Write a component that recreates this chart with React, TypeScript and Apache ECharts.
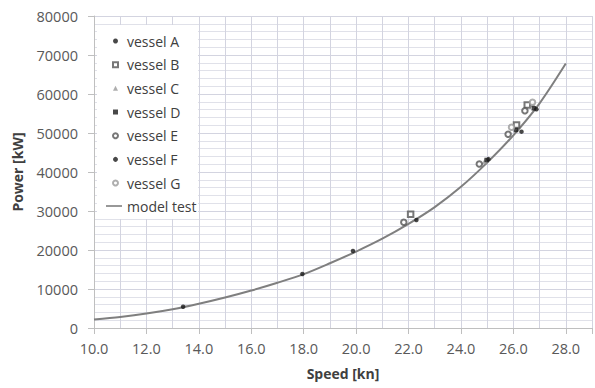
import React, { useEffect, useRef } from "react";
import * as echarts from "echarts";

const speedTicks = [10, 12, 14, 16, 18, 20, 22, 24, 26, 28];
const powerTicks = [0, 10000, 20000, 30000, 40000, 50000, 60000, 70000, 80000];

const modelSpeed = [10, 11, 12, 13, 14, 15, 16, 17, 18, 19, 20, 21, 22, 23, 24, 25, 26, 27, 28];
const modelPower = [2200, 2850, 3700, 4800, 6200, 7800, 9600, 11600, 13800, 16600, 19600, 22900, 26700, 31000, 36200, 42400, 49400, 57600, 67800];

const vesselA = [[13.4, 5460], [17.95, 13850], [19.88, 19740], [22.3, 27700]];
const vesselB = [[22.08, 29150], [26.12, 52050], [26.53, 57180]];
const vesselC = [[24.9, 42700], [26.75, 57300]];
const vesselD = [[24.98, 43080], [26.1, 50770], [26.78, 56330]];
const vesselE = [[21.82, 27100], [24.7, 42050], [25.8, 49660], [26.44, 55720]];
const vesselF = [[25.05, 43300], [26.31, 50340], [26.88, 56080]];
const vesselG = [[25.93, 51460], [26.73, 57870]];

const FONT = "'Open Sans', sans-serif";

export default function App() {
  const ref = useRef<HTMLDivElement>(null);
  useEffect(() => {
    if (!ref.current) return;
    const chart = echarts.init(ref.current, undefined, { renderer: "svg" });
    const scatter = (name: string, data: number[][], symbol: string, color: string, size: number) => ({
      name,
      type: "scatter",
      data,
      symbol,
      symbolSize: size,
      itemStyle: symbol.startsWith("empty")
        ? { color: color, borderColor: color, borderWidth: 1.1 }
        : { color },
      z: 3,
    });
    chart.setOption({
      animation: false,
      backgroundColor: "#ffffff",
      textStyle: { fontFamily: FONT },
      grid: { left: 94, right: 3, top: 16, bottom: 60, containLabel: false },
      graphic: [
        {
          type: "rect",
          z: 1,
          shape: { x: 97, y: 25, width: 101, height: 194 },
          style: { fill: "#ffffff" },
        },
      ],
      legend: [
        {
          orient: "vertical",
          left: 112,
          top: 32,
          padding: 0,
          itemWidth: 5,
          itemHeight: 5,
          itemGap: 5.67,
          textStyle: { fontFamily: FONT, fontSize: 14, color: "#404040", lineHeight: 18, padding: [0, 0, 0, 4] },
          data: ["vessel A", "vessel B", "vessel C", "vessel D", "vessel E", "vessel F", "vessel G"],
        },
        {
          orient: "vertical",
          left: 106,
          top: 197,
          padding: 0,
          itemWidth: 16,
          itemHeight: 1.6,
          textStyle: { fontFamily: FONT, fontSize: 14, color: "#404040", lineHeight: 18 },
          data: [{ name: "model test", icon: "rect" }],
        },
      ],
      xAxis: [
        {
          type: "value",
          min: 10,
          max: 29,
          interval: 2,
          name: "Speed [kn]",
          nameLocation: "middle",
          nameGap: 38,
          nameTextStyle: { fontFamily: FONT, fontSize: 14, fontWeight: "bold", color: "#404040" },
          axisLine: { show: true, lineStyle: { color: "#bfbfbf", width: 1 } },
          axisTick: { show: true, length: 6, lineStyle: { color: "#bfbfbf" } },
          axisLabel: {
            fontFamily: FONT,
            fontSize: 14.5,
            color: "#595959",
            margin: 13,
            formatter: (v: number) => (speedTicks.includes(v) ? v.toFixed(1) : ""),
          },
          splitLine: { show: false },
        },
        {
          type: "value",
          min: 10,
          max: 29,
          interval: 1,
          position: "bottom",
          axisLine: { show: false },
          axisTick: { show: false },
          axisLabel: { show: false },
          splitLine: { show: true, lineStyle: { color: "#d3d4e0", width: 1 } },
        },
      ],
      yAxis: {
        type: "value",
        min: 0,
        max: 80000,
        interval: 10000,
        name: "Power [kW]",
        nameLocation: "middle",
        nameGap: 70,
        nameTextStyle: { fontFamily: FONT, fontSize: 14, fontWeight: "bold", color: "#404040" },
        axisLine: { show: true, lineStyle: { color: "#bfbfbf", width: 1 } },
        axisTick: { show: true, length: 6, lineStyle: { color: "#bfbfbf" } },
        axisLabel: {
          fontFamily: FONT,
          fontSize: 14.5,
          color: "#595959",
          margin: 16,
          formatter: (v: number) => (powerTicks.includes(v) ? String(v) : ""),
        },
        splitLine: { show: true, lineStyle: { color: "#d3d4e0", width: 1 } },
        minorTick: { show: false, splitNumber: 5 },
        minorSplitLine: { show: true, lineStyle: { color: "#e0e1e9", width: 1 } },
      },
      series: [
        scatter("vessel A", vesselA, "circle", "#1a1a1a", 4.5),
        scatter("vessel B", vesselB, "emptyRect", "#555555", 5.5),
        scatter("vessel C", vesselC, "triangle", "#9a9a9a", 5.5),
        scatter("vessel D", vesselD, "rect", "#1a1a1a", 4.5),
        scatter("vessel E", vesselE, "emptyCircle", "#555555", 5.5),
        scatter("vessel F", vesselF, "circle", "#1a1a1a", 4.5),
        scatter("vessel G", vesselG, "emptyCircle", "#9a9a9a", 5.5),
        {
          name: "model test",
          type: "line",
          data: modelSpeed.map((s, i) => [s, modelPower[i]]),
          smooth: 0.3,
          showSymbol: false,
          symbol: "none",
          lineStyle: { color: "#7f7f7f", width: 2 },
          itemStyle: { color: "#7f7f7f" },
          z: 2,
        },
      ],
    });
    return () => chart.dispose();
  }, []);
  return (
    <div
      ref={ref}
      style={{ position: "fixed", left: 0, top: 0, width: 595, height: 388 }}
    />
  );
}
